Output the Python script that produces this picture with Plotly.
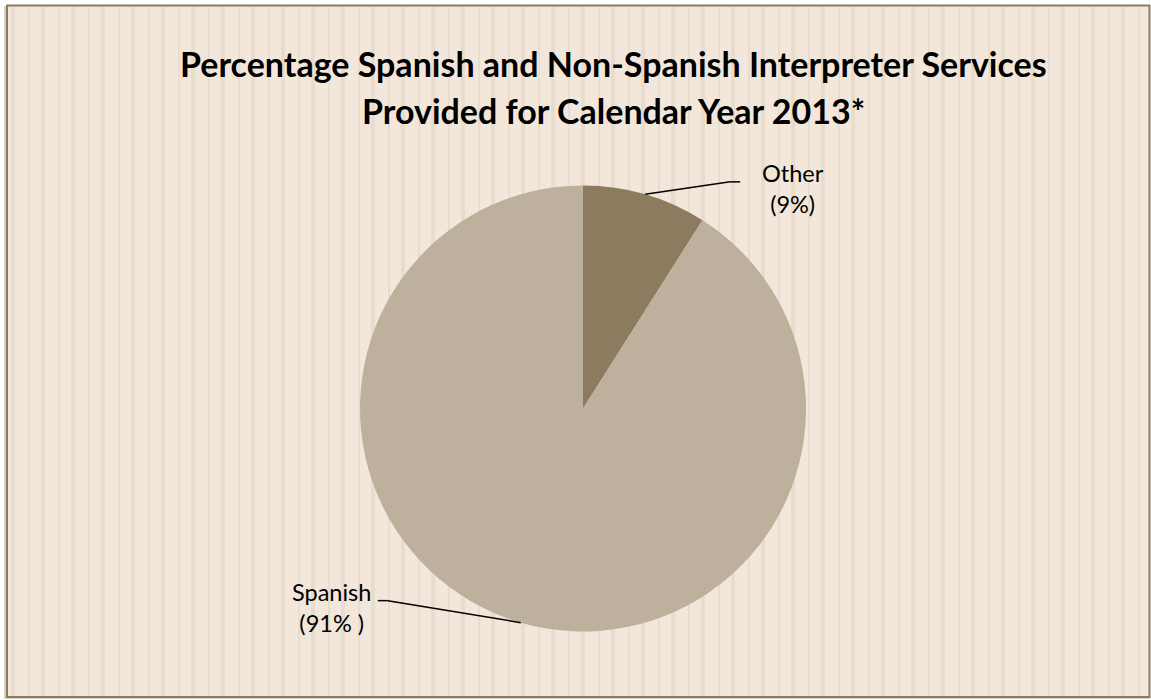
import math
import plotly.graph_objects as go

labels = ["Other", "Spanish"]
values = [9, 91]
label_texts = ["Other<br>(9%)", "Spanish<br>(91% )"]
colors = ["#8C7B5E", "#BDB09D"]
title_lines = ["Percentage Spanish and Non-Spanish Interpreter Services",
               "Provided for Calendar Year 2013*"]

W, H = 1151, 700
cx, cy, r = 583, 408.5, 223
TITLE_FONT = "Lato, sans-serif"
TITLE_SIZE = 34
LABEL_FONT = "Lato, sans-serif"
LABEL_SIZE = 23.5

fig = go.Figure(go.Pie(
    labels=labels, values=values, sort=False, direction="clockwise", rotation=0,
    marker=dict(colors=colors, line=dict(width=0)),
    textinfo="none", hoverinfo="label+percent", showlegend=False,
    domain=dict(x=[(cx - r) / W, (cx + r) / W], y=[(H - cy - r) / H, (H - cy + r) / H]),
))

def px(x):
    return x / W

def py(y):
    return 1 - y / H

shapes = []
shapes.append(dict(type="rect", xref="paper", yref="paper", x0=px(4), x1=px(1150), y0=py(699), y1=py(6),
                   fillcolor="#D9D2C8", line=dict(width=0), layer="below"))
shapes.append(dict(type="rect", xref="paper", yref="paper", x0=px(7), x1=px(1150), y0=py(697), y1=py(5),
                   fillcolor="#F2E7DA", line=dict(width=0), layer="below"))
x = 11
while x < 1150:
    shapes.append(dict(type="rect", xref="paper", yref="paper", x0=px(x), x1=px(x + 4), y0=py(696), y1=py(7),
                       fillcolor="#E8DCCD", line=dict(width=0), layer="below"))
    x2 = x + 17
    if x2 < 1149:
        shapes.append(dict(type="rect", xref="paper", yref="paper", x0=px(x2), x1=px(x2 + 2), y0=py(696), y1=py(7),
                           fillcolor="#E9DDCF", line=dict(width=0), layer="below"))
    x += 30
shapes.append(dict(type="rect", xref="paper", yref="paper", x0=px(7), x1=px(1149.5), y0=py(697), y1=py(5.5),
                   fillcolor="rgba(0,0,0,0)", line=dict(color="#8C7B5E", width=2), layer="above"))

annotations = []
for line, base in zip(title_lines, [76, 123]):
    annotations.append(dict(text="<b>" + line + "</b>", xref="paper", yref="paper",
                            x=px(613), y=py(base - 0.36 * TITLE_SIZE), xanchor="center", yanchor="middle",
                            showarrow=False, font=dict(family=TITLE_FONT, size=TITLE_SIZE, color="#000000")))

total = sum(values)
start = 0.0
for i, v in enumerate(values):
    mid = (start + v / 2) / total * 2 * math.pi
    start += v
    ex = cx + r * math.sin(mid)
    ey = cy - r * math.cos(mid)
    if math.sin(mid) >= 0:
        bx, by = ex + 85, ey - 12.5
        tx = bx + 10
        lx = tx + 53
    else:
        bx, by = ex - 133, ey - 22
        tx = bx - 10
        lx = tx - 46
    for (a, b), (c, d) in [((ex, ey), (bx, by)), ((bx, by), (tx, by))]:
        shapes.append(dict(type="line", xref="paper", yref="paper", x0=px(a), y0=py(b), x1=px(c), y1=py(d),
                           line=dict(color="#000000", width=1.5), layer="above"))
    ly = by + 15 - 0.36 * LABEL_SIZE
    annotations.append(dict(text=label_texts[i], xref="paper", yref="paper", x=px(lx), y=py(ly),
                            xanchor="center", yanchor="middle", showarrow=False, align="center",
                            font=dict(family=LABEL_FONT, size=LABEL_SIZE, color="#000000")))

fig.update_layout(
    width=W, height=H, margin=dict(l=0, r=0, t=0, b=0),
    paper_bgcolor="#FFFFFF", plot_bgcolor="#FFFFFF",
    shapes=shapes, annotations=annotations,
)

fig.write_html("out.html", config={"displayModeBar": False},
               post_script="document.body.style.margin='0';document.body.style.padding='0';")
